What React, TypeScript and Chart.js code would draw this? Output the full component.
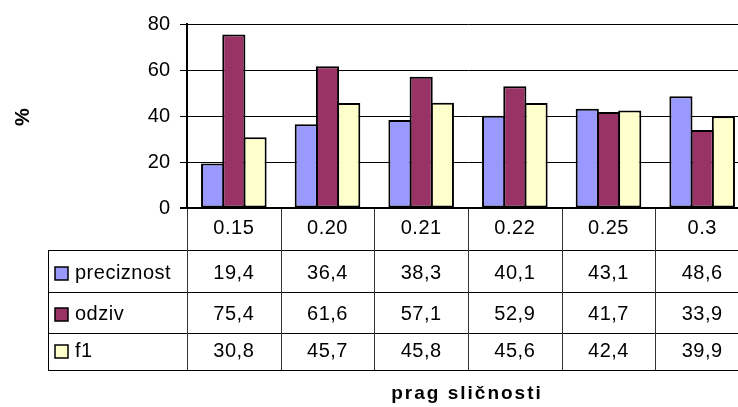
import React, { useEffect, useRef } from 'react';
import { Chart, registerables } from 'chart.js';

Chart.register(...registerables);

const categories = ['0.15', '0.20', '0.21', '0.22', '0.25', '0.3'];
const preciznost = [19.4, 36.4, 38.3, 40.1, 43.1, 48.6];
const odziv = [75.4, 61.6, 57.1, 52.9, 41.7, 33.9];
const f1 = [30.8, 45.7, 45.8, 45.6, 42.4, 39.9];
const seriesNames = ['preciznost', 'odziv', 'f1'];
const seriesValues = [preciznost, odziv, f1];
const seriesColors = ['#9999FF', '#993366', '#FFFFCC'];
const yMin = 0;
const yMax = 80;
const yStep = 20;
const yTitle = '%';
const xTitle = 'prag sličnosti';

const FONT = '"Liberation Sans", Arial, sans-serif';

const fmt = (v: number) => v.toFixed(1).replace('.', ',');

const tablePlugin = {
  id: 'dataTable',
  afterDraw(chart: any) {
    const { ctx, chartArea } = chart;
    const x = chart.scales.x;
    const top = chartArea.bottom;
    const rowLines = [0, 42, 84, 125, 162].map((o) => top + o);
    const baselines = [26, 71, 112, 149].map((o) => top + o);
    const legendLeft = 48;
    const right = chart.width;
    const catW = x.getPixelForValue(1) - x.getPixelForValue(0);

    ctx.save();
    ctx.strokeStyle = '#000';
    ctx.lineWidth = 1;
    ctx.beginPath();
    for (let i = 1; i < rowLines.length; i++) {
      const y = Math.round(rowLines[i]) + 0.5;
      ctx.moveTo(legendLeft, y);
      ctx.lineTo(right, y);
    }
    ctx.moveTo(legendLeft + 0.5, rowLines[1]);
    ctx.lineTo(legendLeft + 0.5, rowLines[4]);
    ctx.stroke();

    ctx.strokeStyle = '#333';
    ctx.beginPath();
    const cx0 = Math.round(chartArea.left) + 0.5;
    ctx.moveTo(cx0, top);
    ctx.lineTo(cx0, rowLines[4]);
    for (let i = 0; i < categories.length; i++) {
      const bx = Math.round(x.getPixelForValue(i) + catW / 2) + 0.5;
      ctx.moveTo(bx, top);
      ctx.lineTo(bx, rowLines[4]);
    }
    ctx.stroke();

    ctx.strokeStyle = '#000';
    ctx.lineWidth = 2;
    ctx.beginPath();
    ctx.moveTo(chartArea.left - 7, top);
    ctx.lineTo(right, top);
    ctx.stroke();

    ctx.fillStyle = '#000';
    ctx.font = `20px ${FONT}`;
    (ctx as any).letterSpacing = '0.5px';
    ctx.textAlign = 'center';
    ctx.textBaseline = 'alphabetic';
    categories.forEach((c, i) => {
      ctx.fillText(c, x.getPixelForValue(i), baselines[0]);
    });
    seriesValues.forEach((vals, r) => {
      vals.forEach((v, i) => {
        ctx.fillText(fmt(v), x.getPixelForValue(i), baselines[r + 1]);
      });
    });

    ctx.textAlign = 'left';
    seriesNames.forEach((name, r) => {
      const bl = baselines[r + 1];
      ctx.fillStyle = seriesColors[r];
      ctx.fillRect(55, bl - 12, 13, 13);
      ctx.strokeStyle = '#000';
      ctx.lineWidth = 1.5;
      ctx.strokeRect(55, bl - 12, 13, 13);
      ctx.fillStyle = '#000';
      ctx.fillText(name, 75, bl);
    });

    ctx.font = `bold 19px ${FONT}`;
    (ctx as any).letterSpacing = '2px';
    ctx.textAlign = 'center';
    ctx.textBaseline = 'middle';
    ctx.fillText(xTitle, (chartArea.left + chartArea.right) / 2 - 1, 394);

    (ctx as any).letterSpacing = '0px';
    ctx.font = `bold 20px ${FONT}`;
    ctx.translate(23, 117);
    ctx.rotate(-Math.PI / 2);
    ctx.fillText(yTitle, 0, 0);
    ctx.restore();
  },
};

export default function App() {
  const canvasRef = useRef<HTMLCanvasElement | null>(null);

  useEffect(() => {
    document.body.style.margin = '0';
    const canvas = canvasRef.current;
    if (!canvas) return;
    const chart = new Chart(canvas, {
      type: 'bar',
      data: {
        labels: categories,
        datasets: seriesNames.map((name, i) => ({
          label: name,
          data: seriesValues[i],
          backgroundColor: seriesColors[i],
          borderColor: '#000',
          borderWidth: 2,
          borderSkipped: false,
          categoryPercentage: 0.68,
          barPercentage: 1.09,
        })),
      },
      options: {
        responsive: false,
        animation: false,
        devicePixelRatio: 1,
        layout: { padding: { left: 0, top: 24, right: 11, bottom: 0 } },
        plugins: {
          legend: { display: false },
          tooltip: { enabled: false },
          title: { display: false },
        },
        scales: {
          x: {
            ticks: { display: false },
            grid: { display: false },
            border: { display: false },
            afterFit: (s: any) => {
              s.height = 199;
            },
          },
          y: {
            min: yMin,
            max: yMax,
            ticks: {
              stepSize: yStep,
              color: '#000',
              padding: 10,
              font: { family: FONT, size: 20 },
            },
            grid: {
              color: '#000',
              lineWidth: 1,
              tickLength: 7,
              drawTicks: true,
            },
            border: { display: true, color: '#000', width: 2 },
            afterFit: (s: any) => {
              s.width = 187;
            },
          },
        },
      },
      plugins: [tablePlugin],
    } as any);
    return () => chart.destroy();
  }, []);

  return (
    <div style={{ width: 738, height: 407, overflow: 'hidden', background: '#fff' }}>
      <canvas ref={canvasRef} width={760} height={407} style={{ display: 'block' }} />
    </div>
  );
}
